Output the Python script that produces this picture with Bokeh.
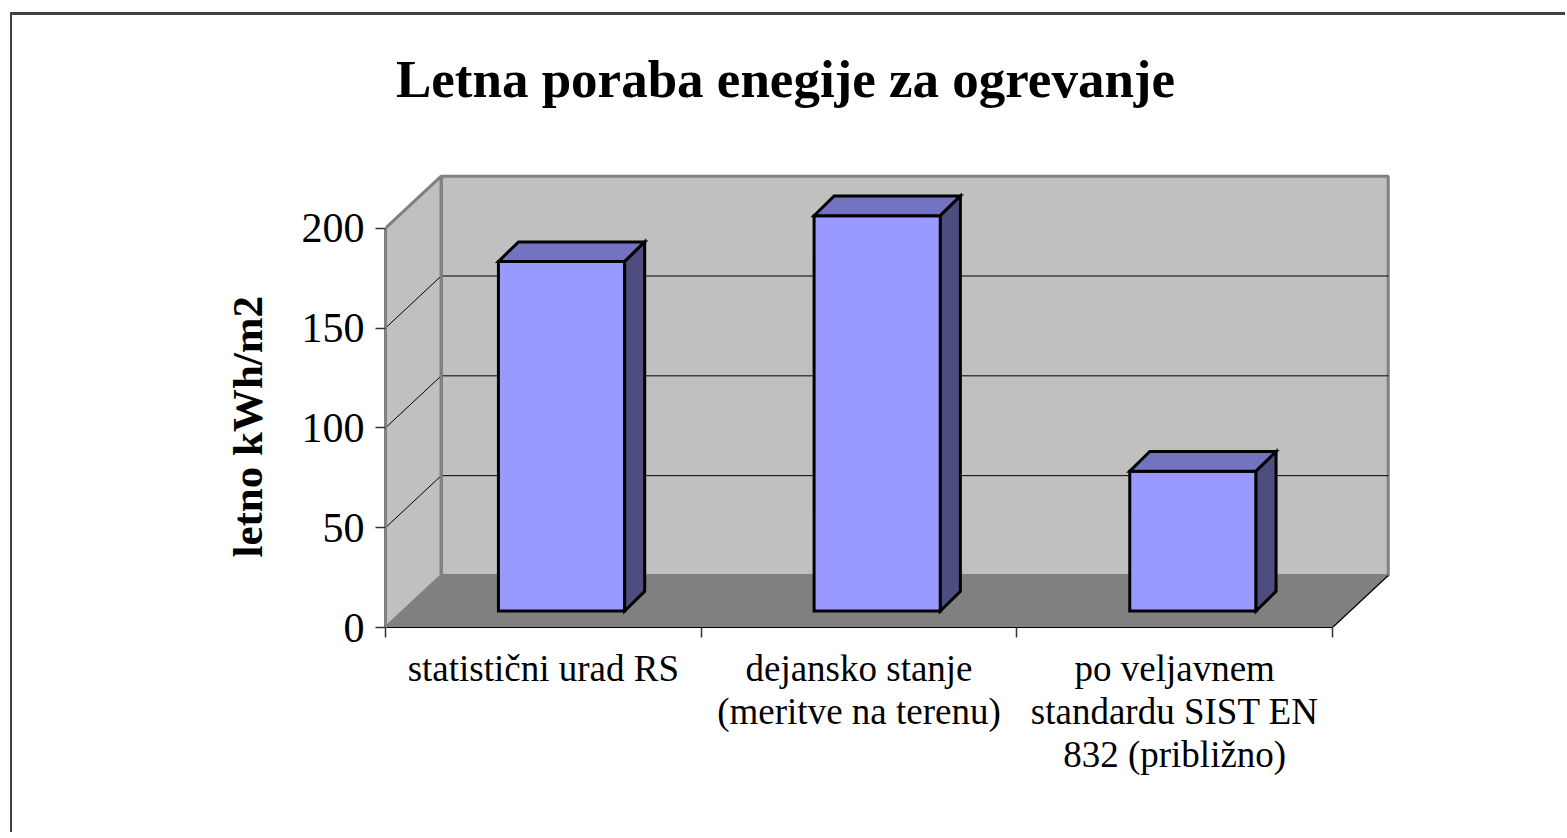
from bokeh.plotting import figure
from bokeh.models import Range1d, LinearAxis, FixedTicker, Title
from bokeh.core.properties import value
from bokeh.embed import file_html
from bokeh.resources import INLINE

# ---------------- data ----------------
title_text = "Letna poraba enegije za ogrevanje"
y_label = "letno kWh/m2"
categories = [
    "statistični urad RS",
    "dejansko stanje\n(meritve na terenu)",
    "po veljavnem\nstandardu SIST EN\n832 (približno)",
]
values = [175, 198, 70]
y_ticks = [0, 50, 100, 150, 200]
y_max = 200

# ---------------- geometry (data units) ----------------
N = len(categories)
DX, DY = 0.1765, 26.05      # depth of the 3D box
OX, OY = 0.0577, 8.26       # bar front offset into the box
BX, BY = 0.0634, 9.87       # bar depth
BW = 0.4                    # bar width (category units)

FONT = "Liberation Serif"

p = figure(width=1555, height=820,
           x_range=Range1d(0, 3.19), y_range=Range1d(0, 294.0),
           x_axis_type=None, y_axis_type=None,
           min_border_left=373, min_border_right=175,
           min_border_top=25, min_border_bottom=208,
           output_backend="svg", toolbar_location=None)
p.outline_line_color = None
p.background_fill_color = "white"
p.border_fill_color = "white"
p.styles = {"border-left": "2px solid #404040", "border-top": "3px solid #404040",
            "margin-left": "10px", "margin-top": "12px"}

wall = "#C0C0C0"
floor = "#808080"
edge = "#808080"

# back wall
p.quad(left=[DX], right=[N + DX], bottom=[DY], top=[y_max + DY],
       fill_color=wall, line_color=edge, line_width=3)
# side wall
p.patch([0, 0, DX, DX], [0, y_max, y_max + DY, DY],
        fill_color=wall, line_color=edge, line_width=3)
# floor
p.patch([0, N, N + DX, DX], [0, 0, DY, DY],
        fill_color=floor, line_color=None)
p.line([N, N + DX], [0, DY], line_color="black", line_width=1.2)

# gridlines
grid_vals = [t for t in y_ticks if 0 < t < y_max]
p.multi_line([[DX, N + DX] for _ in grid_vals], [[t + DY, t + DY] for t in grid_vals],
             line_color="black", line_width=1)
p.multi_line([[0, DX] for _ in grid_vals], [[t, t + DY] for t in grid_vals],
             line_color="black", line_width=1)
p.line([DX, DX], [DY, y_max + DY], line_color=edge, line_width=3)

# bars
lefts = [i + 0.5 - BW / 2 + OX for i in range(N)]
rights = [i + 0.5 + BW / 2 + OX for i in range(N)]
tops = [v + OY for v in values]

p.quad(left=lefts, right=rights, bottom=[OY] * N, top=tops,
       fill_color="#9999FF", line_color="black", line_width=3, line_join="miter")
p.patches([[l, r, r + BX, l + BX] for l, r in zip(lefts, rights)],
          [[t, t, t + BY, t + BY] for t in tops],
          fill_color="#7373BF", line_color="black", line_width=3, line_join="miter")
p.patches([[r, r + BX, r + BX, r] for r in rights],
          [[OY, OY + BY, t + BY, t] for t in tops],
          fill_color="#4D4D80", line_color="black", line_width=3, line_join="miter")

# y axis
yaxis = LinearAxis(ticker=FixedTicker(ticks=y_ticks), bounds=(0, y_max))
yaxis.axis_line_color = edge
yaxis.axis_line_width = 3
yaxis.major_tick_out = 10
yaxis.major_tick_in = 0
yaxis.major_tick_line_color = "#333333"
yaxis.major_tick_line_width = 1.5
yaxis.minor_tick_line_color = None
yaxis.major_label_standoff = 11
yaxis.major_label_text_font = FONT
yaxis.major_label_text_font_size = "42px"
yaxis.major_label_text_color = "black"
p.add_layout(yaxis, "left")

# y axis title (left)
ytitle = Title(text=y_label, align="left", offset=70, standoff=55,
               text_font=FONT, text_font_style="bold", text_font_size="43px",
               text_color="black")
p.add_layout(ytitle, "left")

# x axis
centers = [i + 0.5 for i in range(N)]
xaxis = LinearAxis(ticker=FixedTicker(ticks=centers, minor_ticks=list(range(N + 1))),
                   bounds=(0, N))
xaxis.major_label_overrides = {c: lab for c, lab in zip(centers, categories)}
xaxis.axis_line_color = "black"
xaxis.axis_line_width = 1.2
xaxis.major_tick_out = 0
xaxis.major_tick_in = 0
xaxis.major_tick_line_color = None
xaxis.minor_tick_out = 10
xaxis.minor_tick_in = 0
xaxis.minor_tick_line_color = "#333333"
xaxis.minor_tick_line_width = 1.5
xaxis.major_label_standoff = 10
xaxis.major_label_text_font = FONT
xaxis.major_label_text_font_size = "37px"
xaxis.major_label_text_color = "black"
xaxis.major_label_text_line_height = 1.06
p.add_layout(xaxis, "below")

# chart title (drawn in data space, above the 3D box)
p.text(x=[1.267], y=[274.7], text=[title_text], text_align="center",
       text_baseline="middle", text_font=value(FONT), text_font_style="bold",
       text_font_size="53px", text_color="black")

open("out.html", "w").write(file_html(p, INLINE))
